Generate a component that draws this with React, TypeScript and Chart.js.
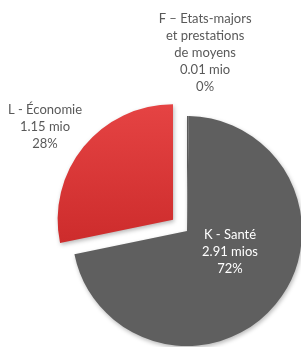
import React, { useEffect, useRef } from "react";
import { Chart, registerables } from "chart.js";

Chart.register(...registerables);

// ---- data ----
const categories = ["F – Etats-majors et prestations de moyens", "K - Santé", "L - Économie"];
const nameLines = [["F – Etats-majors", "et prestations", "de moyens"], ["K - Santé"], ["L - Économie"]];
const values = [0.01, 2.91, 1.15];
const valueTexts = ["0.01 mio", "2.91 mios", "1.15 mio"];
const percentTexts = ["0%", "72%", "28%"];

// ---- label placement (polar, relative to pie centre; angle in degrees, distance in radii) ----
const labelAngle = [-84.2, 26, -143.8];
const labelDist = [1.557, 0.416, 1.53];
const labelColor = ["#595959", "#ffffff", "#595959"];

export default function App() {
  const ref = useRef<HTMLCanvasElement>(null);

  useEffect(() => {
    const canvas = ref.current!;

    const shadowPlugin = {
      id: "pieShadow",
      beforeDatasetsDraw(chart: any) {
        const c = chart.ctx;
        c.save();
        c.shadowColor = "rgba(0,0,0,0.28)";
        c.shadowBlur = 4;
        c.shadowOffsetX = 1;
        c.shadowOffsetY = 2;
      },
      afterDatasetsDraw(chart: any) {
        chart.ctx.restore();
      },
    };

    const labelPlugin = {
      id: "pieLabels",
      afterDraw(chart: any) {
        const c = chart.ctx;
        const arcs = chart.getDatasetMeta(0).data;
        const base = arcs[1];
        const cx = base.x;
        const cy = base.y;
        const r = base.outerRadius;
        c.save();
        c.font = "13px Lato, 'Open Sans', sans-serif";
        c.textAlign = "center";
        c.textBaseline = "middle";
        const lh = 17.2;
        for (let i = 0; i < values.length; i++) {
          const lines = [...nameLines[i], valueTexts[i], percentTexts[i]];
          const a = (labelAngle[i] * Math.PI) / 180;
          const x = cx + Math.cos(a) * labelDist[i] * r;
          const y = cy + Math.sin(a) * labelDist[i] * r;
          c.fillStyle = labelColor[i];
          const top = y - ((lines.length - 1) * lh) / 2;
          lines.forEach((t, k) => c.fillText(t, x, top + k * lh));
        }
        c.restore();
      },
    };

    const chart = new Chart(canvas, {
      type: "pie",
      data: {
        labels: categories,
        datasets: [
          {
            data: values,
            backgroundColor: (ctx: any) => {
              if (ctx.dataIndex === 2) {
                const g = ctx.chart.ctx.createLinearGradient(0, 100, 0, 260);
                g.addColorStop(0, "#e84646");
                g.addColorStop(1, "#cc2b2b");
                return g;
              }
              return "#5f5f5f";
            },
            borderWidth: 0,
            offset: [0, 0, 72],
            hoverOffset: 0,
            clip: false,
          } as any,
        ],
      },
      options: {
        responsive: false,
        animation: false,
        events: [],
        layout: { padding: { left: 36, top: 80, right: 0, bottom: 0 } },
        plugins: {
          legend: { display: false },
          tooltip: { enabled: false },
        },
      },
      plugins: [shadowPlugin, labelPlugin],
    });

    return () => chart.destroy();
  }, []);

  return (
    <div
      style={{
        position: "absolute",
        left: 0,
        top: 0,
        width: 301,
        height: 347,
        overflow: "hidden",
        background: "#ffffff",
      }}
    >
      <canvas ref={ref} width={338} height={382} style={{ display: "block" }} />
    </div>
  );
}
